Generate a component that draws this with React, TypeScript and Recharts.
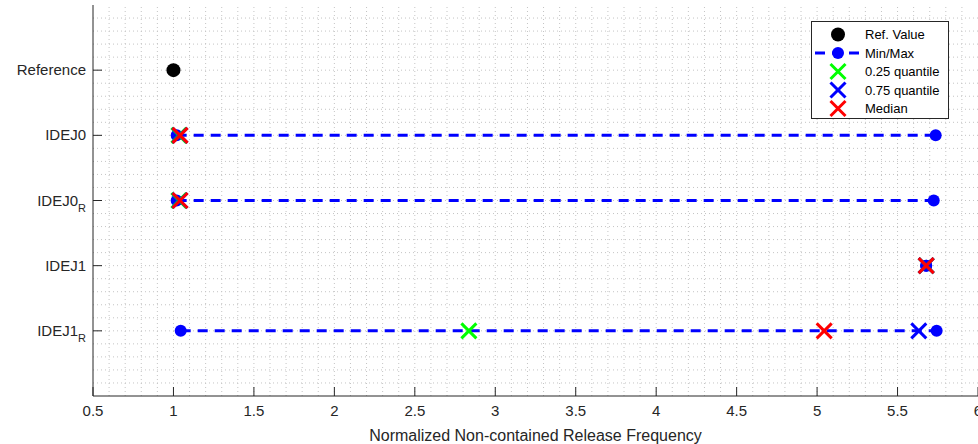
import { ScatterChart, Scatter, XAxis, YAxis, ReferenceLine, Legend } from "recharts";

document.body.style.margin = "0";

// row order from top to bottom
const rowLabels = ["Reference", "IDEJ0", "IDEJ0_R", "IDEJ1", "IDEJ1_R"];
const refValue = 1.0;

// statistics for the four IDEJ rows
const statRows = ["IDEJ0", "IDEJ0_R", "IDEJ1", "IDEJ1_R"];
const minVals = [1.02, 1.02, 5.678, 1.045];
const maxVals = [5.737, 5.725, 5.678, 5.743];
const q25Vals = [1.034, 1.034, 5.678, 2.836];
const q75Vals = [1.04, 1.04, 5.678, 5.632];
const medianVals = [1.041, 1.041, 5.678, 5.044];

const xTicks = [0.5, 1, 1.5, 2, 2.5, 3, 3.5, 4, 4.5, 5, 5.5, 6];
const yTicks = [1, 2, 3, 4, 5];

const AXIS = "#262626";
const FONT = "'Liberation Sans', Arial, sans-serif";

const rowIndex = (name: string) => rowLabels.indexOf(name) + 1;

const refData = [{ x: refValue, y: rowIndex("Reference") }];
const minMaxData = statRows.map((r, i) => [
  { x: minVals[i], y: rowIndex(r) },
  { x: maxVals[i], y: rowIndex(r) },
]);
const q25Data = statRows.map((r, i) => ({ x: q25Vals[i], y: rowIndex(r) }));
const q75Data = statRows.map((r, i) => ({ x: q75Vals[i], y: rowIndex(r) }));
const medianData = statRows.map((r, i) => ({ x: medianVals[i], y: rowIndex(r) }));

// dotted minor grid positions
const gridX: number[] = [];
for (let i = 6; i < 60; i++) gridX.push(i / 10);
const gridY: number[] = [];
for (let i = 1; i < 30; i++) gridY.push(i / 5);

const Cross = ({ cx, cy, color }: any) => (
  <g stroke={color} strokeWidth={3}>
    <line x1={cx - 7.5} y1={cy - 7.5} x2={cx + 7.5} y2={cy + 7.5} />
    <line x1={cx - 7.5} y1={cy + 7.5} x2={cx + 7.5} y2={cy - 7.5} />
  </g>
);

const Dot = ({ cx, cy, color, r }: any) => <circle cx={cx} cy={cy} r={r} fill={color} />;

const BottomTick = ({ x, y, payload }: any) => (
  <g>
    <line x1={x} y1={y} x2={x} y2={y - 9} stroke={AXIS} />
    <text x={x} y={y + 20} textAnchor="middle" fontSize={15} fill={AXIS} fontFamily={FONT}>
      {payload.value}
    </text>
  </g>
);

const TopTick = ({ x, y }: any) => <line x1={x} y1={y} x2={x} y2={y + 9} stroke={AXIS} />;

const RightTick = ({ x, y }: any) => <line x1={x} y1={y} x2={x - 9} y2={y} stroke={AXIS} />;

const LeftTick = ({ x, y, payload }: any) => {
  const label = rowLabels[payload.value - 1] || "";
  const [main, sub] = label.split("_");
  return (
    <g>
      <line x1={x} y1={y} x2={x + 9} y2={y} stroke={AXIS} />
      <text x={x - 7} y={y + 5} textAnchor="end" fontSize={15} fill={AXIS} fontFamily={FONT}>
        <tspan>{main}</tspan>
        {sub && (
          <tspan fontSize={11} dy={6}>
            {sub}
          </tspan>
        )}
      </text>
    </g>
  );
};

const legendItems = [
  { name: "Ref. Value", kind: "ref" },
  { name: "Min/Max", kind: "minmax" },
  { name: "0.25 quantile", kind: "cross", color: "#00ff00" },
  { name: "0.75 quantile", kind: "cross", color: "#0000ff" },
  { name: "Median", kind: "cross", color: "#ff0000" },
];

const renderLegend = () => (
  <div
    style={{
      width: 136,
      height: 96,
      border: `1px solid ${AXIS}`,
      background: "#fff",
    }}
  >
    <svg width={136} height={96}>
      {legendItems.map((it, i) => {
        const cy = 12.5 + i * 18.5;
        return (
          <g key={it.name}>
            {it.kind === "ref" && <Dot cx={26} cy={cy} r={7} color="#000" />}
            {it.kind === "minmax" && (
              <g>
                <line x1={3} y1={cy} x2={50} y2={cy} stroke="#0000ff" strokeWidth={3} strokeDasharray="10 7" />
                <Dot cx={26} cy={cy} r={6} color="#0000ff" />
              </g>
            )}
            {it.kind === "cross" && <Cross cx={26} cy={cy} color={it.color} />}
            <text x={53} y={cy + 4.5} fontSize={13} fill="#000" fontFamily={FONT}>
              {it.name}
            </text>
          </g>
        );
      })}
    </svg>
  </div>
);

export default function App() {
  return (
    <div style={{ width: 978, height: 444, background: "#fff" }}>
      <ScatterChart width={978} height={444} margin={{ top: 5, right: 0, bottom: 0, left: 0 }}>
        {gridX.map((v) => (
          <ReferenceLine key={"gx" + v} x={v} stroke="#c4c4c4" strokeDasharray="1 3" />
        ))}
        {gridY.map((v) => (
          <ReferenceLine key={"gy" + v} y={v} stroke="#c4c4c4" strokeDasharray="1 3" />
        ))}

        <XAxis
          type="number"
          dataKey="x"
          domain={[0.5, 6]}
          ticks={xTicks}
          allowDataOverflow
          height={48}
          axisLine={{ stroke: AXIS }}
          tickLine={false}
          tickSize={0}
          tickMargin={0}
          tick={(p: any) => <BottomTick {...p} />}
          interval={0}
          label={{
            value: "Normalized Non-contained Release Frequency",
            position: "insideBottom",
            offset: 3,
            fontSize: 16,
            fill: AXIS,
            fontFamily: FONT,
          }}
        />
        <XAxis
          xAxisId="top"
          orientation="top"
          type="number"
          domain={[0.5, 6]}
          ticks={xTicks}
          allowDataOverflow
          height={0}
          axisLine={{ stroke: AXIS }}
          tickLine={false}
          tickSize={0}
          tickMargin={0}
          tick={(p: any) => <TopTick {...p} />}
          interval={0}
        />
        <YAxis
          type="number"
          dataKey="y"
          domain={[0, 6]}
          ticks={yTicks}
          reversed
          allowDataOverflow
          width={93}
          axisLine={{ stroke: AXIS }}
          tickLine={false}
          tickSize={0}
          tickMargin={0}
          tick={(p: any) => <LeftTick {...p} />}
          interval={0}
        />
        <YAxis
          yAxisId="right"
          orientation="right"
          type="number"
          domain={[0, 6]}
          ticks={yTicks}
          reversed
          allowDataOverflow
          width={0}
          axisLine={{ stroke: AXIS }}
          tickLine={false}
          tickSize={0}
          tickMargin={0}
          tick={(p: any) => <RightTick {...p} />}
          interval={0}
        />

        <Legend
          layout="vertical"
          align="center"
          verticalAlign="middle"
          content={renderLegend}
          wrapperStyle={{ top: 21, left: 811, width: 138, height: 98 }}
        />

        {minMaxData.map((d, i) => (
          <Scatter
            key={"mm" + i}
            data={d}
            isAnimationActive={false}
            line={{ stroke: "#0000ff", strokeWidth: 3, strokeDasharray: "10 7" }}
            lineType="joint"
            shape={(p: any) => <Dot cx={p.cx} cy={p.cy} r={6} color="#0000ff" />}
          />
        ))}
        <Scatter
          data={q25Data}
          isAnimationActive={false}
          shape={(p: any) => <Cross cx={p.cx} cy={p.cy} color="#00ff00" />}
        />
        <Scatter
          data={q75Data}
          isAnimationActive={false}
          shape={(p: any) => <Cross cx={p.cx} cy={p.cy} color="#0000ff" />}
        />
        <Scatter
          data={medianData}
          isAnimationActive={false}
          shape={(p: any) => <Cross cx={p.cx} cy={p.cy} color="#ff0000" />}
        />
        <Scatter
          data={refData}
          isAnimationActive={false}
          shape={(p: any) => <Dot cx={p.cx} cy={p.cy} r={7} color="#000000" />}
        />
      </ScatterChart>
    </div>
  );
}
